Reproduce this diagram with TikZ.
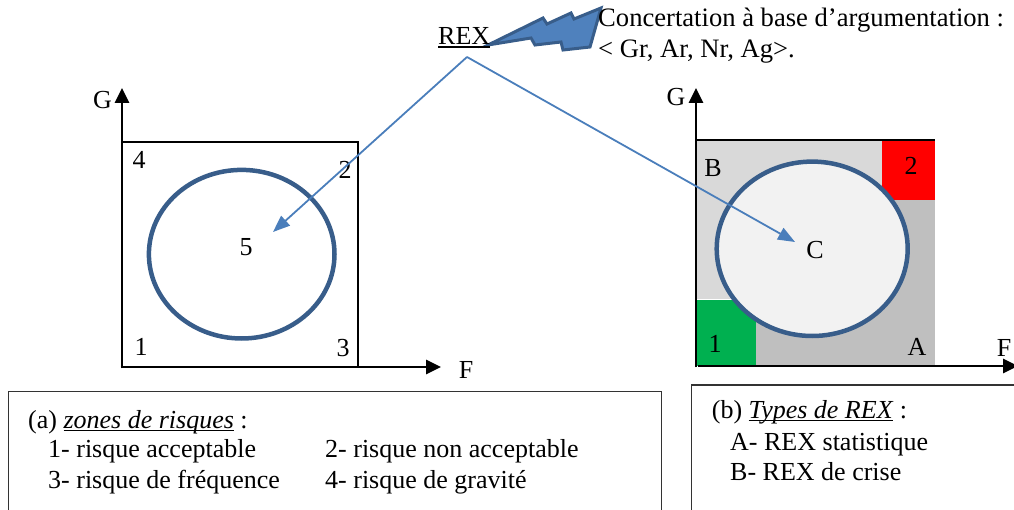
\documentclass[tikz,border=0pt]{standalone}
\usepackage{fontspec}
\setmainfont{Liberation Serif}
\usetikzlibrary{arrows.meta}
\definecolor{ringblue}{HTML}{385D8A}
\definecolor{arrblue}{HTML}{4A7EBB}
\definecolor{boltfill}{HTML}{4F81BD}
\definecolor{lgray}{HTML}{D9D9D9}
\definecolor{dgray}{HTML}{BFBFBF}
\definecolor{cfill}{HTML}{F2F2F2}
\definecolor{zred}{HTML}{FF0000}
\definecolor{zgreen}{HTML}{00B050}
\newcommand{\myul}[1]{\setbox0\hbox{#1}\rlap{\rule[-2.8pt]{\wd0}{1.3pt}}\box0\relax}
\begin{document}
\begin{tikzpicture}[x=1pt,y=-1pt,
  txt/.style={font=\fontsize{26}{30}\selectfont, inner sep=0pt, anchor=base west},
  toptxt/.style={font=\fontsize{26.6}{30}\selectfont, inner sep=0pt, anchor=base west},
  lbl/.style={font=\fontsize{26}{30}\selectfont, inner sep=0pt, anchor=center},
  axis/.style={line width=2.7pt, -{Triangle[length=15pt,width=14pt]}},
  ring/.style={draw=ringblue, line width=4.5pt},
  link/.style={draw=arrblue, line width=1.8pt, -{Triangle[length=17pt,width=13pt]}},
  frame/.style={draw=black!80, line width=1.3pt}]
\useasboundingbox (0,0) rectangle (1014,510);

% ---------- left diagram ----------
\draw[line width=2.3pt] (122,142) rectangle (358,367);
\draw[ring] (241.7,254.2) ellipse [x radius=92.8pt, y radius=84.3pt];
\draw[axis] (122,368.3) -- (122,88);
\draw[axis] (120.7,367) -- (441,367);
\node[lbl] (lG) at (102.5,100.5) {G};
\node[lbl] (lF) at (466,370) {F};
\node[lbl] (l4) at (139,160) {4};
\node[lbl] (l2) at (345,170) {2};
\node[lbl] (l5) at (246,247) {5};
\node[lbl] (l1) at (141,347) {1};
\node[lbl] (l3) at (343,348) {3};

% ---------- right diagram ----------
\fill[lgray] (696,140) rectangle (935,366);
\fill[dgray] (756,200) rectangle (935,366);
\fill[zred] (882,140) rectangle (935,200);
\fill[zgreen] (696,300) rectangle (756,366);
\draw[white, line width=1pt] (697,300) -- (756,300);
\draw[ring, fill=cfill] (812.2,248.8) ellipse [x radius=95.5pt, y radius=87.2pt];
\draw[line width=2.3pt] (696,140) -- (935,140);
\draw[axis] (696,367.3) -- (696,88);
\draw[axis] (698,366) -- (1018,366);
\node[lbl] (rG) at (676,97) {G};
\node[lbl] (rF) at (1004,348) {F};
\node[lbl] (rB) at (713,168) {B};
\node[lbl] (r2) at (911,166) {2};
\node[lbl] (rC) at (815,250) {C};
\node[lbl] (r1) at (715,344) {1};
\node[lbl] (rA) at (917,347) {A};

% ---------- REX and lightning ----------
\draw[draw=ringblue, fill=boltfill, line width=3pt, line join=miter]
  (488,45) -- (543,18) -- (547,24) -- (571,13) -- (574,19) -- (601,8)
  -- (590,47) -- (563,50) -- (561,42) -- (535,45) -- (531,38) -- cycle;
\node[txt] (rex) at (438,45) {\myul{REX}};
\node[toptxt] (conc1) at (598,27) {Concertation à base d’argumentation :};
\node[toptxt] (conc2) at (598,58) {< Gr, Ar, Nr, Ag>.};

\coordinate (apex) at (467,57);
\coordinate (t5) at (273,232);
\coordinate (tC) at (795,242);
\draw[link] (apex) -- (t5);
\draw[link] (apex) -- (tC);

% ---------- legend boxes ----------
\draw[frame] (8.3,391.7) rectangle (661.7,525);
\draw[frame] (691.7,385) rectangle (1025,525);
\node[txt] (la) at (28,428) {(a) \myul{\textit{zones de risques}} :};
\node[txt] (la1) at (48,457) {1- risque acceptable};
\node[txt] (la2) at (325,457) {2- risque non acceptable};
\node[txt] (la3) at (48,488) {3- risque de fréquence};
\node[txt] (la4) at (325,488) {4- risque de gravité};
\node[txt] (lb) at (711.7,418) {(b) \myul{\textit{Types de REX}} :};
\node[txt] (lb1) at (730,450) {A- REX statistique};
\node[txt] (lb2) at (730,480) {B- REX de crise};
\end{tikzpicture}
\end{document}
